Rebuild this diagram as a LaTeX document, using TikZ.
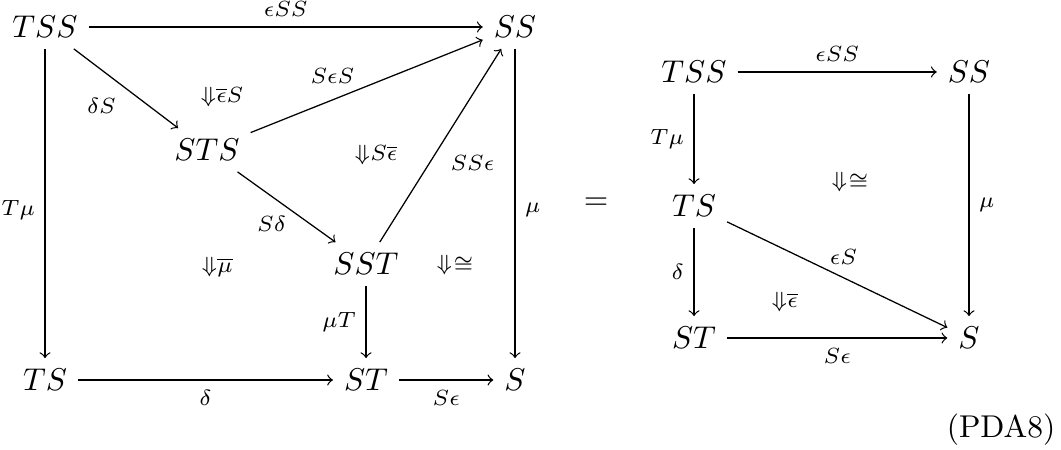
\documentclass[tikz,border=0pt]{standalone}
\usepackage{amsmath,amssymb}
\begin{document}
\begin{tikzpicture}[x=0.3175pt,y=-0.3175pt,
  obj/.style={inner sep=0.3333em},
  lab/.style={inner sep=3pt, font=\scriptsize},
  arr/.style={->},
  twocell/.style={inner sep=0pt, anchor=west, font=\scriptsize}]
\useasboundingbox (0,0) rectangle (1061,450);
% ---- left diagram
\node[obj] (a) at (45,27) {$TSS$};
\node[obj] (b) at (515,27) {$SS$};
\node[obj] (c) at (207,150) {$STS$};
\node[obj] (d) at (366,264) {$SST$};
\node[obj] (e) at (45,380) {$TS$};
\node[obj] (f) at (366,380) {$ST$};
\node[obj] (g) at (515,380) {$S$};
\draw[arr] (a) -- node[lab,above]{$\epsilon SS$} (b);
\draw[arr] (a) -- node[lab,below left]{$\delta S$} (c);
\draw[arr] (c) -- node[lab,above left,inner sep=1.5pt,pos=0.47]{$S\epsilon S$} (b);
\draw[arr] (c) -- node[lab,below left,inner sep=1.5pt,pos=0.55]{$S\delta$} (d);
\draw[arr] (d) -- node[lab,below right]{$SS\epsilon$} (b);
\draw[arr] (d) -- node[lab,left]{$\mu T$} (f);
\draw[arr] (a) -- node[lab,left,pos=0.52]{$T\mu$} (e);
\draw[arr] (b) -- node[lab,right,pos=0.52]{$\mu$} (g);
\draw[arr] (e) -- node[lab,below]{$\delta$} (f);
\draw[arr] (f) -- node[lab,below]{$S\epsilon$} (g);
\node[twocell] (c1) at (200,97) {${\Downarrow}\overline{\epsilon}S$};
\node[twocell] (c2) at (354,155) {${\Downarrow}S\overline{\epsilon}$};
\node[twocell] (c3) at (201,267) {${\Downarrow}\overline{\mu}$};
\node[twocell] (c4) at (436,265) {${\Downarrow}\mkern1mu{\cong}$};
% ---- equals
\node (eq) at (596,204) {$=$};
% ---- right diagram
\node[obj] (h) at (694,72) {$TSS$};
\node[obj] (i) at (969,72) {$SS$};
\node[obj] (j) at (694,206) {$TS$};
\node[obj] (k) at (694,338) {$ST$};
\node[obj] (l) at (969,338) {$S$};
\draw[arr] (h) -- node[lab,above]{$\epsilon SS$} (i);
\draw[arr] (h) -- node[lab,left]{$T\mu$} (j);
\draw[arr] (i) -- node[lab,right]{$\mu$} (l);
\draw[arr] (j) -- node[lab,left]{$\delta$} (k);
\draw[arr] (j) -- node[lab,above,xshift=2pt]{$\epsilon S$} (l);
\draw[arr] (k) -- node[lab,below]{$S\epsilon$} (l);
\node[twocell] (c5) at (831,182) {${\Downarrow}\mkern1mu{\cong}$};
\node[twocell] (c6) at (771,302) {${\Downarrow}\overline{\epsilon}$};
% ---- tag
\node (tag) at (1001,430) {(PDA8)};
\end{tikzpicture}
\end{document}
